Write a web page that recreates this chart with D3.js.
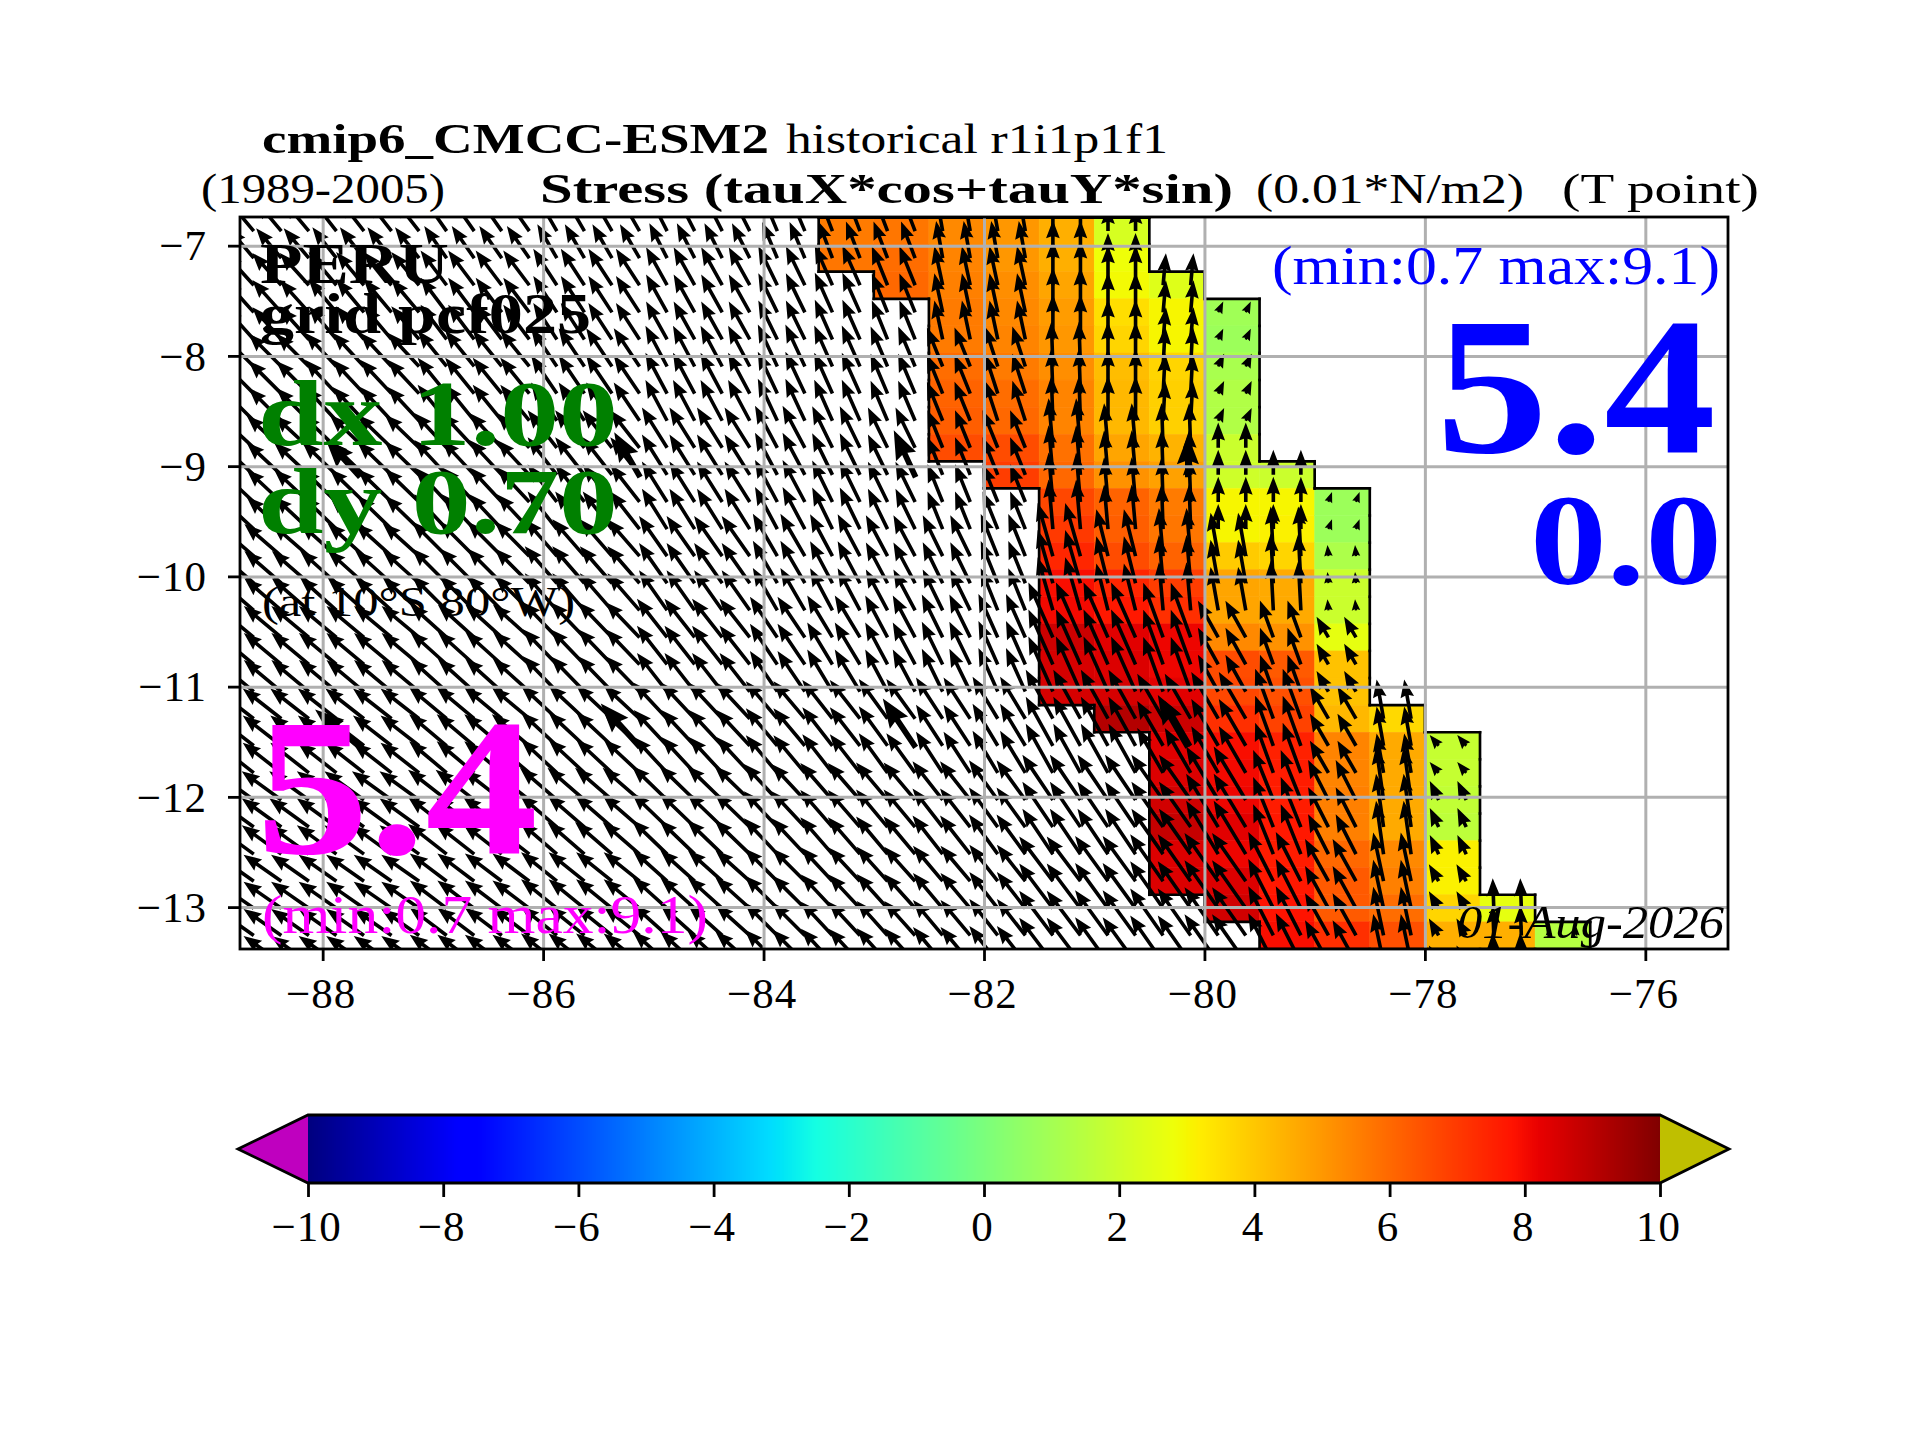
<!DOCTYPE html>
<html>
<head>
<meta charset="utf-8">
<title>Stress PERU</title>
<script src="https://cdn.jsdelivr.net/npm/d3@7"></script>
<style>
  body { margin: 0; background: #fff; }
  text { font-family: "Liberation Serif", serif; fill: #000; }
</style>
</head>
<body>
<div id="graphic"></div>
<script>
// tick labels
var lonTicks = [-88, -86, -84, -82, -80, -78, -76];
var latTicks = [-7, -8, -9, -10, -11, -12, -13];
var barTicks = [-10, -8, -6, -4, -2, 0, 2, 4, 6, 8, 10];

// lat of the row edges, top to bottom (last one is below the frame, arrows only)
var latEdges = [-6.745, -6.991, -7.236, -7.482, -7.728, -7.973, -8.219, -8.465, -8.711, -8.956,
  -9.202, -9.448, -9.694, -9.939, -10.185, -10.431, -10.676, -10.922, -11.168, -11.414,
  -11.659, -11.905, -12.151, -12.397, -12.642, -12.888, -13.134, -13.380, -13.625];

// stress per cell, 0.5 deg wide. firstCol = number of 0.5 deg columns after 83.5W
var firstCol = [0, 0, 1, 2, 2, 2, 2, 2, 2, 3, 4, 4, 4, 4, 4, 4, 4, 4, 5, 6, 6, 6, 6, 6, 6, 7, 8];
var stressRows = [
  [5.6, 5.7, 5.3, 5.0, 4.5, 2.2],
  [5.7, 5.9, 5.4, 5.0, 4.5, 2.8],
  [6.0, 5.5, 5.2, 4.7, 2.9, 2.4],
  [5.6, 5.3, 4.9, 3.5, 3.0, 0.9],
  [5.6, 5.4, 5.0, 3.7, 3.0, 0.8],
  [5.9, 5.6, 5.2, 4.2, 3.7, 1.1],
  [6.1, 5.9, 5.4, 4.3, 3.8, 1.3],
  [6.2, 6.0, 5.4, 4.3, 3.8, 1.3],
  [6.6, 6.6, 5.8, 4.7, 4.4, 1.9],
  [6.9, 6.0, 5.1, 4.8, 2.0, 1.9],
  [6.7, 6.1, 5.6, 3.0, 3.0, 0.8],
  [7.0, 6.2, 5.7, 3.0, 3.1, 0.8],
  [7.4, 6.6, 6.1, 3.9, 3.7, 1.2],
  [7.9, 7.4, 6.9, 4.7, 4.6, 1.9],
  [8.0, 7.7, 7.2, 4.7, 4.6, 1.9],
  [8.7, 8.3, 8.1, 5.3, 5.1, 2.6],
  [8.5, 8.4, 8.1, 6.6, 6.3, 4.1],
  [8.5, 8.5, 8.3, 6.7, 6.5, 4.1],
  [9.1, 8.7, 7.2, 6.8, 4.3, 3.6],
  [8.3, 7.9, 7.5, 5.4, 4.6, 1.8],
  [8.4, 8.0, 7.6, 5.4, 4.6, 1.8],
  [8.6, 8.1, 7.6, 5.5, 4.6, 1.7],
  [8.8, 8.3, 7.7, 5.5, 4.6, 1.6],
  [8.4, 8.1, 7.6, 6.0, 5.3, 3.1],
  [8.4, 8.4, 7.7, 6.3, 5.5, 3.1],
  [8.6, 7.8, 6.3, 5.9, 3.7, 2.6],
  [7.9, 7.2, 6.5, 4.5, 4.5, 1.4]
];

// vectors come on coarser bands of rows: which band each row reads
var rowBand = [0, 0, 1, 1, 1, 2, 2, 2, 3, 3, 3, 3, 4, 4, 4, 5, 5, 5, 6, 6, 6, 7, 7, 7, 8, 8, 8, 8];
// last 0.5 deg column holding arrows, per row (columns counted from 89W)
var lastArrowCol = [16, 16, 17, 18, 18, 18, 18, 18, 18, 19, 20, 20, 20, 20, 20, 20, 20, 20, 21, 22, 22, 22, 22, 22, 22, 23, 24, 24];

// heading in degrees west of north
var headingBands = [
  [40, 40, 38, 38, 35, 35, 30, 30, 27, 27, 23, 21, 21, 10, 10, 0, 0],
  [42, 42, 40, 40, 37, 37, 33, 33, 29, 29, 26, 24, 22, 12, 12, 0, 0, -5, -25],
  [45, 45, 43, 43, 39, 39, 34, 34, 28, 28, 25, 24, 23, 22, 18, 2, 0, -3, -25],
  [47, 47, 46, 46, 43, 43, 38, 38, 32, 32, 28, 26, 26, 22, 22, 5, 5, 2, 0, 0, -20],
  [49, 49, 48, 48, 45, 45, 41, 41, 35, 35, 30, 28, 28, 26, 22, 16, 14, 5, 10, 3, 5],
  [50, 50, 50, 50, 48, 48, 44, 44, 38, 38, 34, 31, 28, 26, 24, 24, 24, 20, 29, 20, 30],
  [52, 52, 52, 52, 50, 50, 47, 47, 43, 43, 40, 38, 36, 33, 31, 29, 29, 30, 30, 20, 30, 10, 40],
  [54, 54, 54, 54, 52, 52, 49, 49, 46, 46, 43, 41, 40, 38, 36, 34, 34, 35, 31, 22, 27, 8, 25],
  [55, 55, 55, 55, 53, 53, 51, 51, 48, 48, 45, 43, 42, 40, 38, 37, 36, 35, 35, 27, 29, 12, 30, 2, 0]
];
var speedBands = [
  [5.6, 5.6, 5.6, 5.6, 5.6, 5.6, 5.6, 5.6, 5.6, 5.6, 5.6, 5.6, 5.6, 5.4, 5.4, 5.4, 3.6],
  [6.2, 6.2, 6.2, 6.2, 6.2, 6.2, 6.2, 6.2, 6.2, 6.2, 6.2, 6.2, 6.0, 5.7, 5.7, 6.4, 5.7, 4.6, 1.7],
  [6.6, 6.6, 6.6, 6.6, 6.6, 6.6, 6.6, 6.6, 6.6, 6.6, 6.6, 6.4, 6.2, 6.0, 6.0, 6.4, 6.4, 5.7, 2.0],
  [6.8, 6.8, 6.8, 6.8, 6.8, 6.8, 6.8, 6.8, 6.8, 6.8, 6.8, 6.6, 6.4, 5.8, 5.8, 7.1, 6.4, 6.4, 3.6, 3.6, 1.5],
  [7.0, 7.0, 7.0, 7.0, 7.0, 7.0, 7.0, 7.0, 7.0, 7.0, 7.0, 6.8, 6.6, 6.5, 6.5, 7.9, 6.9, 6.9, 6.3, 7.1, 1.6],
  [7.0, 7.0, 7.0, 7.0, 7.0, 7.0, 7.0, 7.0, 7.0, 7.0, 7.0, 7.0, 6.8, 6.8, 6.8, 8.6, 8.6, 8.3, 6.0, 5.6, 3.4],
  [7.0, 7.0, 7.0, 7.0, 7.0, 7.0, 7.0, 7.0, 7.0, 7.0, 7.0, 7.0, 7.0, 7.0, 7.0, 8.0, 8.0, 7.4, 7.7, 7.6, 5.3, 5.7, 2.0],
  [7.0, 7.0, 7.0, 7.0, 7.0, 7.0, 7.0, 7.0, 7.0, 7.0, 7.0, 7.0, 7.0, 7.0, 7.0, 7.8, 7.8, 7.9, 8.9, 7.7, 6.4, 7.7, 3.0],
  [6.6, 6.6, 6.6, 6.6, 6.6, 6.6, 6.6, 6.6, 6.6, 6.6, 6.6, 6.6, 6.6, 6.6, 6.6, 8.0, 8.0, 8.2, 8.4, 7.9, 6.9, 7.1, 2.8, 4.3, 1.2]
];

// the few heavier arrows, tail lon / lat / heading / speed
var boldLon = [-87.66, -85.12, -82.62, -80.15, -87.66, -85.12, -82.62, -80.15];
var boldLat = [-9.1, -9.1, -9.1, -9.1, -11.55, -11.55, -11.55, -11.55];
var boldHeading = [42, 30, 25, 0, 50, 42, 34, 30];
var boldSpeed = [7.4, 7.4, 7.4, 6.0, 8.4, 8.4, 8.4, 8.6];

var width = 1920, height = 1440;
var margin = { top: 217, right: 192, bottom: 491, left: 240 };
var grey = '#b0b0b0', lw = 2.8;

var x = d3.scaleLinear().domain([-88.75, -75.25]).range([margin.left, width - margin.right]);
var y = d3.scaleLinear().domain([-6.74, -13.38]).range([margin.top, height - margin.bottom]);
var arrowScale = d3.scaleLinear().domain([0, 1]).range([0, 7]);
var barX = d3.scaleLinear().domain([-10, 10]).range([308, 1660]);

// jet, same breakpoints as matplotlib
var jetR = d3.scaleLinear().domain([0, 0.35, 0.66, 0.89, 1]).range([0, 0, 1, 1, 0.5]);
var jetG = d3.scaleLinear().domain([0, 0.125, 0.375, 0.64, 0.91, 1]).range([0, 0, 1, 1, 0, 0]);
var jetB = d3.scaleLinear().domain([0, 0.11, 0.34, 0.65, 1]).range([0.5, 1, 1, 0, 0]);
var norm = d3.scaleLinear().domain([-10, 10]).range([0, 1]).clamp(true);
function colour(v) {
  var t = norm(v);
  return d3.rgb(jetR(t) * 255, jetG(t) * 255, jetB(t) * 255).formatHex();
}

var svg = d3.select('#graphic').append('svg')
  .attr('width', width)
  .attr('height', height)
  .style('display', 'block');

svg.append('clipPath').attr('id', 'frame').append('rect')
  .attr('x', x.range()[0]).attr('y', y.range()[0])
  .attr('width', x.range()[1] - x.range()[0])
  .attr('height', y.range()[1] - y.range()[0]);

var plot = svg.append('g').attr('clip-path', 'url(#frame)');

// flatten the table to cells
var cells = [];
stressRows.forEach(function(row, r) {
  row.forEach(function(v, i) {
    cells.push({ r: r, c: firstCol[r] + i, v: v });
  });
});

function colLon(c) { return -83.5 + c * 0.5; }

plot.selectAll('rect.cell')
  .data(cells)
  .join('rect')
  .attr('class', 'cell')
  .attr('x', function(d) { return x(colLon(d.c)); })
  .attr('y', function(d) { return y(latEdges[d.r]); })
  .attr('width', function(d) { return x(colLon(d.c + 1)) - x(colLon(d.c)); })
  .attr('height', function(d) { return y(latEdges[d.r + 1]) - y(latEdges[d.r]); })
  .attr('fill', function(d) { return colour(d.v); })
  .attr('stroke', function(d) { return colour(d.v); })
  .attr('stroke-width', 0.5);

// black outline: every cell side that has no neighbour
var has = {};
cells.forEach(function(d) { has[d.r + '_' + d.c] = true; });
var edges = [];
cells.forEach(function(d) {
  var w = colLon(d.c), e = colLon(d.c + 1), n = latEdges[d.r], s = latEdges[d.r + 1];
  if (!has[(d.r - 1) + '_' + d.c]) edges.push([w, n, e, n]);
  if (!has[(d.r + 1) + '_' + d.c]) edges.push([w, s, e, s]);
  if (!has[d.r + '_' + (d.c - 1)]) edges.push([w, n, w, s]);
  if (!has[d.r + '_' + (d.c + 1)]) edges.push([e, n, e, s]);
});
plot.selectAll('line.coast')
  .data(edges)
  .join('line')
  .attr('class', 'coast')
  .attr('x1', function(d) { return x(d[0]); })
  .attr('y1', function(d) { return y(d[1]); })
  .attr('x2', function(d) { return x(d[2]); })
  .attr('y2', function(d) { return y(d[3]); })
  .attr('stroke', '#000')
  .attr('stroke-width', 2.67)
  .attr('stroke-linecap', 'square');

// quiver style arrow pointing along +x, tail at the origin
function arrowPath(len, w) {
  var hw = 3.8 * w, hl = 5 * w, ha = 4.5 * w, s = 1;
  if (len < hl) { s = len / hl; }
  var t = len / s, a = t - ha, b = t - hl;
  var pts = [[0, -w / 2], [a, -w / 2], [b, -hw / 2], [t, 0], [b, hw / 2], [a, w / 2], [0, w / 2]];
  return 'M' + pts.map(function(p) { return (p[0] * s) + ',' + (p[1] * s); }).join('L') + 'Z';
}

var arrows = [];
rowBand.forEach(function(b, r) {
  var lat = (latEdges[r] + latEdges[r + 1]) / 2;
  for (var i = 0; i <= lastArrowCol[r]; i++) {
    [0.125, 0.375].forEach(function(off) {
      arrows.push({ lon: -89 + i * 0.5 + off, lat: lat, heading: headingBands[b][i], speed: speedBands[b][i], w: 3.6 });
    });
  }
});
boldLon.forEach(function(lon, i) {
  arrows.push({ lon: lon, lat: boldLat[i], heading: boldHeading[i], speed: boldSpeed[i], w: 5.8 });
});

plot.selectAll('path.arrow')
  .data(arrows)
  .join('path')
  .attr('class', 'arrow')
  .attr('d', function(d) { return arrowPath(arrowScale(d.speed), d.w); })
  .attr('transform', function(d) {
    return 'translate(' + x(d.lon) + ',' + y(d.lat) + ') rotate(' + (-90 - d.heading) + ')';
  })
  .attr('fill', '#000');

// grid goes over the arrows
plot.append('g')
  .attr('transform', 'translate(0,' + y.range()[1] + ')')
  .call(d3.axisBottom(x).tickValues(lonTicks).tickSize(-(y.range()[1] - y.range()[0])).tickFormat(''))
  .call(function(g) { g.select('.domain').remove(); })
  .selectAll('line').attr('stroke', grey).attr('stroke-width', 3);
plot.append('g')
  .attr('transform', 'translate(' + x.range()[0] + ',0)')
  .call(d3.axisLeft(y).tickValues(latTicks).tickSize(-(x.range()[1] - x.range()[0])).tickFormat(''))
  .call(function(g) { g.select('.domain').remove(); })
  .selectAll('line').attr('stroke', grey).attr('stroke-width', 3);

// frame and ticks
svg.append('rect')
  .attr('x', x.range()[0]).attr('y', y.range()[0])
  .attr('width', x.range()[1] - x.range()[0])
  .attr('height', y.range()[1] - y.range()[0])
  .attr('fill', 'none')
  .attr('stroke', '#000')
  .attr('stroke-width', lw);

function styleAxis(g) {
  g.select('.domain').remove();
  g.selectAll('line').attr('stroke', '#000').attr('stroke-width', lw);
  g.selectAll('text')
    .attr('font-size', 43)
    .attr('letter-spacing', 1)
    .attr('fill', '#000')
    .style('font-family', '"Liberation Serif", serif');
}

var intFormat = d3.format('d');

svg.append('g')
  .attr('transform', 'translate(0,' + y.range()[1] + ')')
  .call(d3.axisBottom(x).tickValues(lonTicks).tickFormat(intFormat).tickSize(12).tickPadding(0))
  .call(styleAxis)
  .selectAll('text').attr('y', 0).attr('dy', 0)
  .attr('transform', 'translate(-2,59)');

svg.append('g')
  .attr('transform', 'translate(' + x.range()[0] + ',0)')
  .call(d3.axisLeft(y).tickValues(latTicks).tickFormat(intFormat).tickSize(12).tickPadding(0))
  .call(styleAxis)
  .selectAll('text').attr('x', -33).attr('dy', '0.33em');

// colour bar
var barTop = 1115, barBottom = 1183, barMid = (barTop + barBottom) / 2;
var levels = d3.range(0, 676).map(function(i) { return -10 + i * 20 / 676; });
svg.selectAll('rect.level')
  .data(levels)
  .join('rect')
  .attr('class', 'level')
  .attr('x', function(d) { return barX(d); })
  .attr('y', barTop)
  .attr('width', (barX(10) - barX(-10)) / 676 + 0.6)
  .attr('height', barBottom - barTop)
  .attr('fill', function(d) { return colour(d); });

svg.append('path')
  .attr('d', 'M' + barX(-10) + ',' + barTop + 'L238,' + barMid + 'L' + barX(-10) + ',' + barBottom + 'Z')
  .attr('fill', '#bf00bf');
svg.append('path')
  .attr('d', 'M' + barX(10) + ',' + barTop + 'L1729,' + barMid + 'L' + barX(10) + ',' + barBottom + 'Z')
  .attr('fill', '#bfbf00');
svg.append('path')
  .attr('d', 'M' + barX(-10) + ',' + barTop + 'L' + barX(10) + ',' + barTop + 'L1729,' + barMid + 'L' + barX(10) + ',' + barBottom +
    'L' + barX(-10) + ',' + barBottom + 'L238,' + barMid + 'Z')
  .attr('fill', 'none')
  .attr('stroke', '#000')
  .attr('stroke-width', lw);

svg.append('g')
  .attr('transform', 'translate(0,' + barBottom + ')')
  .call(d3.axisBottom(barX).tickValues(barTicks).tickFormat(intFormat).tickSize(14).tickPadding(0))
  .call(styleAxis)
  .selectAll('text').attr('y', 0).attr('dy', 0)
  .attr('transform', 'translate(-2,58)');

// text, width forced so it sits like the original lettering
function addText(str, x0, x1, base, size, fill, weight, style) {
  svg.append('text')
    .attr('x', x0)
    .attr('y', base)
    .attr('font-size', size)
    .attr('font-weight', weight || 'normal')
    .attr('font-style', style || 'normal')
    .attr('textLength', x1 - x0)
    .attr('lengthAdjust', 'spacingAndGlyphs')
    .style('fill', fill || '#000')
    .text(str);
}

addText('cmip6_CMCC-ESM2', 262, 769, 153, 43, '#000', 'bold');
addText('historical r1i1p1f1', 786, 1168, 153, 43);
addText('(1989-2005)', 201, 445, 203, 43);
addText('Stress (tauX*cos+tauY*sin)', 540, 1233, 203, 43, '#000', 'bold');
addText('(0.01*N/m2)', 1256, 1524, 203, 43);
addText('(T point)', 1562, 1759, 203, 43);

addText('PERU', 260, 449, 283, 58, '#000', 'bold');
addText('grid pcf025', 260, 591, 333, 58, '#000', 'bold');
addText('dx 1.00', 258, 618, 445, 94, '#008000', 'bold');
addText('dy 0.70', 258, 618, 533, 94, '#008000', 'bold');
addText('(at 10°S 80°W)', 262, 575, 616, 42);
addText('5.4', 256, 538, 853, 194, '#ff00ff', 'bold');
addText('(min:0.7 max:9.1)', 262, 708, 933, 54, '#ff00ff');
addText('(min:0.7 max:9.1)', 1272, 1720, 284, 54, '#0000ff');
addText('5.4', 1436, 1716, 452, 194, '#0000ff', 'bold');
addText('0.0', 1530, 1722, 584, 130, '#0000ff', 'bold');
addText('01-Aug-2026', 1457, 1724, 938, 46, '#000', 'normal', 'italic');
</script>
</body>
</html>
